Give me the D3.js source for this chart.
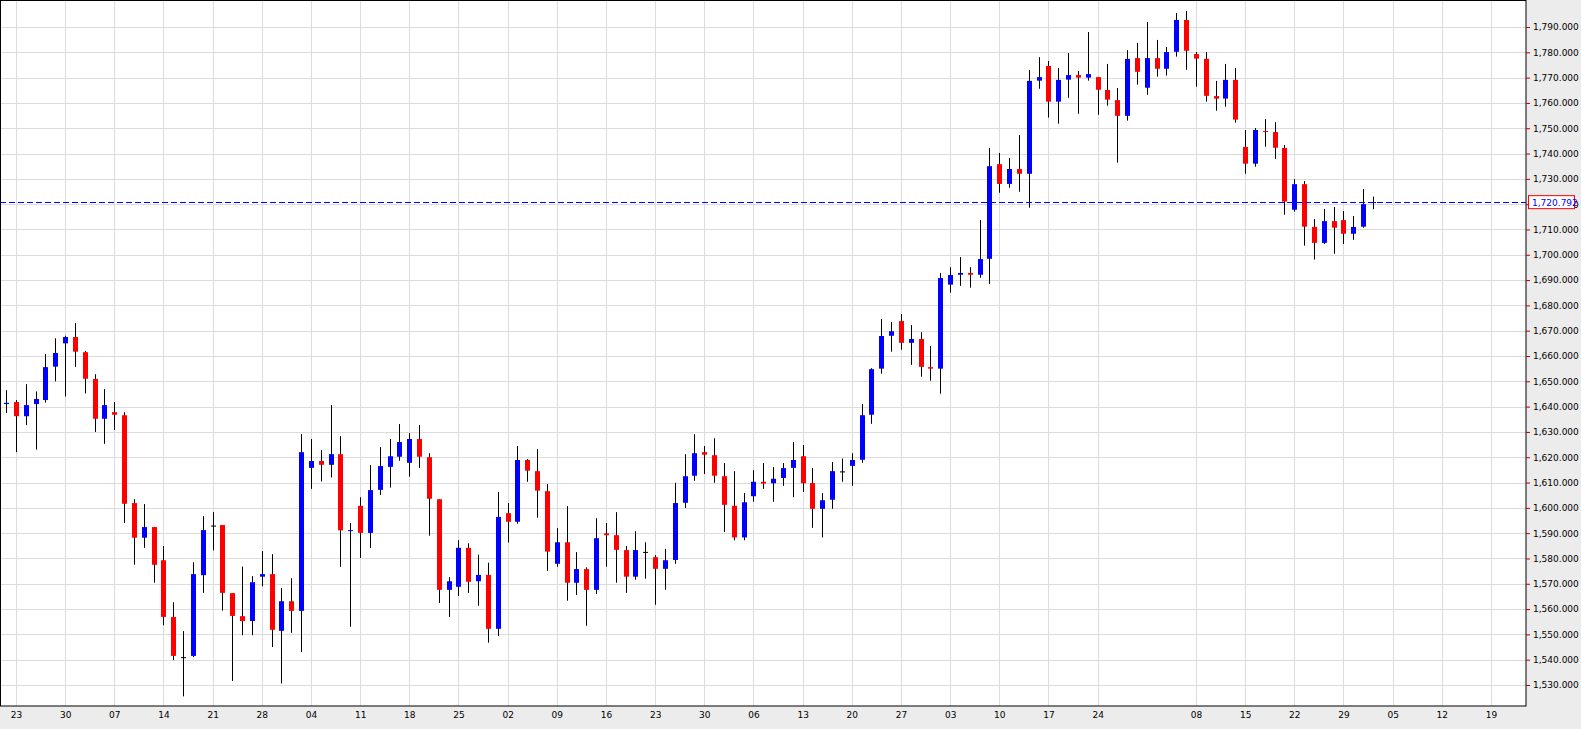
<!DOCTYPE html>
<html>
<head>
<meta charset="utf-8">
<script src="https://cdn.jsdelivr.net/npm/d3@7"></script>
<style>
  body { margin: 0; background: #ececec; }
  #chart text { font-family: "DejaVu Sans", sans-serif; font-size: 9px; }
</style>
</head>
<body>
<div id="chart"></div>
<script>
// daily candles: open, high, low, close
var opens  = [1641,1641.8,1636.2,1641,1642.6,1655.8,1665,1667.5,1661.5,1650.9,1635.2,1637.8,1636.6,1601.9,1588.2,1592.4,1579.3,1556.9,1541,1541.5,
  1573.4,1593,1593.2,1566.3,1557.2,1555.3,1572.8,1573.8,1551.4,1563.1,1559.3,1615.8,1618.5,1617,1621.2,1590.8,1600.8,1590.1,1607.1,1616.2,
  1620.2,1617.8,1627.2,1620,1603.4,1567.6,1568.8,1584.2,1571,1573.5,1552.2,1597.9,1594.5,1618.9,1614.5,1606.6,1577.9,1586.4,1570.4,1575.8,
  1567.6,1589.9,1589.2,1583.3,1572.8,1582.6,1580.5,1575.9,1579.4,1602,1612.7,1622,1620.8,1612.5,1600.8,1588.3,1604.6,1610.3,1609.7,1611.8,
  1615.8,1620.4,1609.8,1599.6,1603.2,1614.4,1616.6,1619,1636.8,1655,1668,1673.8,1665.2,1666.7,1655.6,1655,1688.2,1692.1,1692.8,1692.1,
  1698.4,1735.8,1728,1733.9,1732,1768.8,1774.6,1760.5,1769.2,1771,1770,1770.2,1765.1,1761.1,1754.9,1777.7,1766,1777.7,1773.5,1780.2,
  1792.8,1779.3,1777.4,1762.7,1761.7,1769.1,1742.6,1736,1748.9,1748.5,1742.2,1717.8,1727.9,1711,1704.7,1713.3,1713.7,1708.3,1711.1,1720.8];
var highs  = [1646.5,1642.6,1648.9,1646,1660.8,1667,1668,1673,1662,1652.8,1646.9,1641.8,1637.8,1603.4,1601.5,1592.4,1584.9,1562.7,1551.3,1578.5,
  1596.7,1598.3,1593.2,1566.3,1576.8,1573,1582.9,1581.7,1568.3,1572.2,1629.1,1627.2,1622.8,1640.6,1628.3,1594,1604.2,1616.9,1624,1627.2,
  1633.1,1629.5,1632.7,1621.6,1603.4,1572.6,1587.2,1586,1581.5,1578.3,1606.3,1601.9,1624.4,1619.3,1623.2,1609.4,1592,1600.7,1582.5,1576.5,
  1595.9,1594,1598.3,1584.9,1590.8,1586.4,1581.3,1583.8,1609.9,1621.2,1629.1,1624.4,1627.5,1617.7,1614.5,1605.9,1614.9,1617.7,1616.1,1617.7,
  1626,1624.8,1615.7,1605.8,1618.1,1619.5,1621.6,1641,1655.2,1674.6,1673.4,1676.6,1672.2,1669.4,1663.9,1692.8,1695.1,1699.1,1695.1,1713.7,
  1742.2,1740.2,1738.2,1747.3,1773,1778.1,1776.6,1773.8,1779.7,1772.6,1788,1770.2,1775.4,1765.9,1780.9,1783.7,1792,1784.9,1782.1,1795.5,
  1796.3,1780.1,1780.1,1768.7,1775.4,1773.8,1749.3,1750.1,1753.6,1752.4,1743.4,1729.9,1729.1,1714.1,1718.1,1718.9,1717.3,1715.3,1726,1723];
var lows   = [1637.5,1622,1632.7,1623,1641.6,1650,1644,1655.7,1645.2,1630,1625.3,1630.8,1594,1577.5,1584.2,1570.4,1553.6,1539.8,1525.5,1541,
  1566.4,1583.2,1559.4,1531.6,1549.7,1549.7,1569,1545,1530.6,1550.6,1543,1607.5,1610.4,1612,1576.7,1553,1580.2,1584.2,1605.1,1608,
  1618.6,1612.3,1615.8,1589,1562.4,1556.9,1565.2,1566.4,1561.3,1546.7,1549.4,1586.3,1593.7,1610.3,1596.1,1575.1,1576.7,1563.3,1565.6,1553.4,
  1566,1576.7,1570.4,1566.4,1571.6,1572,1561.7,1567.6,1577.9,1600,1610.7,1613.4,1609.9,1590.5,1587.2,1587.2,1602.4,1607.5,1602.4,1608.7,
  1604.2,1606.3,1592.1,1588.3,1599.6,1610.3,1608.7,1617.8,1633.2,1653,1661.7,1662.5,1656.5,1651.8,1650.2,1645.1,1685,1687.7,1687,1690.9,
  1688.5,1724.5,1726.5,1724.9,1718.6,1765.6,1754.2,1751.8,1762,1755.7,1768.8,1755.3,1758.9,1736.4,1753,1767.2,1763.2,1770.4,1770.8,1778.3,
  1773.1,1766.4,1760.5,1756.9,1758.5,1752.2,1732,1734.8,1742.7,1737.9,1715.8,1717,1703.6,1698.1,1704.3,1700.4,1704.3,1705.9,1710.7,1718];
var closes = [1641.5,1636.2,1640.6,1643,1655.6,1661.2,1667.5,1661.7,1651,1635.2,1640.6,1636.8,1601.6,1588.2,1592.4,1577.5,1556.9,1541.5,1541,1573.8,
  1591.2,1593,1566.4,1557.3,1555.3,1570.6,1573.8,1551.8,1563.1,1559.3,1622,1618.5,1617,1621.2,1591.1,1591.2,1590.1,1607,1616.5,1620.4,
  1626,1627.2,1620.2,1603.6,1567.6,1571,1584.2,1570.8,1573.5,1552.2,1596.4,1594.5,1618.9,1614.7,1606.8,1582.7,1586.4,1570.4,1575.8,1567.6,
  1588,1589.2,1583.4,1572.8,1583.3,1582.6,1575.9,1579.3,1601.9,1612.5,1621.6,1621,1612.7,1601.2,1588.3,1602.2,1610.3,1609.6,1611.5,1615.7,
  1618.9,1609.7,1599.6,1603,1614.5,1614.4,1618.9,1636.6,1654.8,1667.9,1669.8,1665.2,1666.7,1655.7,1655,1690.8,1692,1692.8,1692.1,1698.3,
  1735,1728,1733.9,1732,1768.7,1770.2,1760.5,1769.1,1771,1770,1771.4,1765.2,1761.3,1754.9,1777.4,1772.3,1777.7,1773.5,1780.1,1792.8,
  1780.6,1777.5,1762.8,1761.7,1769.1,1753.4,1736,1749.3,1748.5,1742.3,1721,1727.9,1711.1,1704.7,1713.3,1710.7,1708.3,1711,1720,1720.8];

var weekLabels = ["23","30","07","14","21","28","04","11","18","25","02","09","16","23","30","06","13","20","27","03",
  "10","17","24","","08","15","22","29","05","12","19"];
var priceTicks = d3.range(1530, 1791, 10);
var lastPrice = 1720.792;

var width = 1581, height = 729;
var plotRight = 1526, plotBottom = 706;

var svg = d3.select("#chart").append("svg")
  .attr("width", width).attr("height", height);

var x = d3.scaleLinear().domain([1, 31]).range([16, 16 + 9.833 * 30]);
var y = d3.scaleLinear().domain([1530, 1790]).range([685, 27]);

svg.append("rect").attr("x", 0).attr("y", 0).attr("width", plotRight).attr("height", plotBottom)
  .attr("fill", "#fff");

// grid
svg.append("g").selectAll("line").data(priceTicks).enter().append("line")
  .attr("x1", 0).attr("x2", plotRight)
  .attr("y1", function(d) { return Math.round(y(d)) + 0.5; })
  .attr("y2", function(d) { return Math.round(y(d)) + 0.5; })
  .attr("stroke", "#dcdcdc").attr("stroke-width", 1);

var weeks = weekLabels.map(function(d, k) { return { label: d, i: 1 + 5 * k }; })
  .filter(function(d) { return d.label !== ""; });

svg.append("g").selectAll("line").data(weeks).enter().append("line")
  .attr("y1", 0).attr("y2", plotBottom)
  .attr("x1", function(d) { return Math.round(x(d.i)) + 0.5; })
  .attr("x2", function(d) { return Math.round(x(d.i)) + 0.5; })
  .attr("stroke", "#dcdcdc").attr("stroke-width", 1);

// candles
var candles = closes.map(function(c, i) {
  return { i: i, o: opens[i], h: highs[i], l: lows[i], c: c };
});

var g = svg.append("g");
g.selectAll(".wick").data(candles).enter().append("line")
  .attr("class", "wick")
  .attr("x1", function(d) { return Math.round(x(d.i)) + 0.5; })
  .attr("x2", function(d) { return Math.round(x(d.i)) + 0.5; })
  .attr("y1", function(d) { return y(d.h); })
  .attr("y2", function(d) { return y(d.l); })
  .attr("stroke", "#000").attr("stroke-width", 1);

g.selectAll(".body").data(candles).enter().append("rect")
  .attr("class", "body")
  .attr("x", function(d) { return Math.round(x(d.i)) - 2; })
  .attr("width", 5)
  .attr("y", function(d) { return y(Math.max(d.o, d.c)); })
  .attr("height", function(d) { return Math.max(1, Math.abs(y(d.o) - y(d.c))); })
  .attr("fill", function(d) {
    if (d.o === d.c) return "#000";
    return d.c > d.o ? "#0000ff" : "#ff0000";
  });

// last price line
svg.append("line")
  .attr("x1", 0).attr("x2", plotRight)
  .attr("y1", Math.round(y(lastPrice)) + 0.5).attr("y2", Math.round(y(lastPrice)) + 0.5)
  .attr("stroke", "#0000ff").attr("stroke-dasharray", "6,3");

// frame
svg.append("rect").attr("x", 0.5).attr("y", 0.5).attr("width", plotRight - 0.5).attr("height", plotBottom - 0.5)
  .attr("fill", "none").attr("stroke", "#000");

// right axis
var yAxis = svg.append("g")
  .attr("transform", "translate(" + plotRight + ",0)")
  .call(d3.axisRight(y).tickValues(priceTicks).tickSize(4).tickPadding(3)
    .tickFormat(function(d) { return d3.format(",.3f")(d); }));
yAxis.select(".domain").remove();
yAxis.selectAll(".tick line").attr("stroke", "#c00000");
yAxis.selectAll(".tick text").attr("fill", "#000");

// current price label
var py = y(lastPrice);
svg.append("rect").attr("x", 1528.5).attr("y", py - 6.5).attr("width", 46).attr("height", 13)
  .attr("fill", "#fff").attr("stroke", "#ff0000");
svg.append("text").attr("x", 1532).attr("y", py + 3.5).attr("fill", "#0000ff")
  .text(d3.format(",.3f")(lastPrice));

// bottom axis labels
var xAxis = svg.append("g")
  .attr("transform", "translate(0," + plotBottom + ")")
  .call(d3.axisBottom(x).tickValues(weeks.map(function(d) { return d.i; })).tickSize(0).tickPadding(6)
    .tickFormat(function(d) { return weekLabels[(d - 1) / 5]; }));
xAxis.select(".domain").remove();
xAxis.selectAll("text").attr("fill", "#000");
</script>
</body>
</html>
